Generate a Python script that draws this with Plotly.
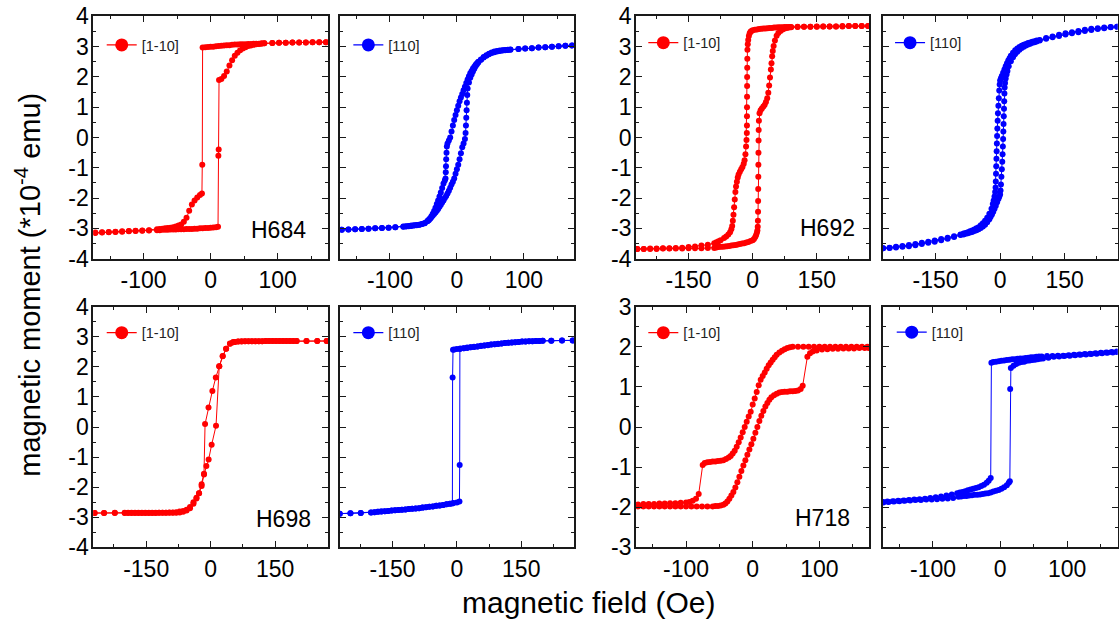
import plotly.graph_objects as go

# Hysteresis loops: (applied field in Oe, magnetic moment in 1e-4 emu).
# Each loop is stored as its down-sweep (+H -> -H) and up-sweep (-H -> +H).

H684_1M10_DOWN = [
    (172, 3.15), (162, 3.15), (152, 3.15), (142, 3.14), (132, 3.14), (122, 3.14), (112, 3.13), (102, 3.13), (92, 3.12),
    (80, 3.11), (76, 3.11), (72, 3.1), (68, 3.1), (64, 3.1), (60, 3.09), (56, 3.09), (52, 3.08), (48, 3.08), (44, 3.08),
    (40, 3.07), (36, 3.07), (32, 3.06), (28, 3.05), (24, 3.05), (20, 3.04), (16, 3.03), (12, 3.02), (8, 3.01), (4, 3.0),
    (0, 3.0), (-4, 2.99), (-8, 2.98), (-12, 2.97), (-12.5, -0.9), (-13, -1.85), (-16, -1.9), (-20, -1.98), (-24, -2.08),
    (-28, -2.21), (-32, -2.42), (-36, -2.65), (-40, -2.78), (-44, -2.87), (-48, -2.91), (-52, -2.94), (-56, -2.96),
    (-60, -2.98), (-64, -2.99), (-68, -3.0), (-72, -3.01), (-76, -3.02), (-80, -3.03),
    (-92, -3.06), (-102, -3.07), (-112, -3.08), (-122, -3.09), (-132, -3.1), (-142, -3.11), (-152, -3.12), (-162, -3.13), (-172, -3.14),
]
H684_1M10_UP = [
    (-172, -3.15), (-162, -3.14), (-152, -3.13), (-142, -3.12), (-132, -3.11), (-122, -3.1), (-112, -3.09), (-102, -3.08), (-92, -3.07),
    (-80, -3.06), (-76, -3.06), (-72, -3.05), (-68, -3.05), (-64, -3.05), (-60, -3.04), (-56, -3.04), (-52, -3.04), (-48, -3.03),
    (-44, -3.03), (-40, -3.03), (-36, -3.02), (-32, -3.02), (-28, -3.02), (-24, -3.01), (-20, -3.01), (-16, -3.0), (-12, -3.0),
    (-8, -2.99), (-4, -2.99), (0, -2.98), (4, -2.97), (8, -2.96), (11, -2.95), (11.5, -0.6), (12, -0.4), (12.5, 1.9),
    (16, 1.93), (20, 2.03), (24, 2.18), (28, 2.38), (32, 2.55), (36, 2.7), (40, 2.8), (44, 2.88), (48, 2.94), (52, 2.98),
    (56, 3.02), (60, 3.04), (64, 3.06), (68, 3.08), (72, 3.09), (76, 3.1), (80, 3.11),
    (92, 3.12), (102, 3.13), (112, 3.13), (122, 3.14), (132, 3.14), (142, 3.14), (152, 3.15), (162, 3.15), (172, 3.15),
]

H684_110_DOWN = [
    (172, 3.04), (162, 3.03), (152, 3.01), (142, 3.0), (132, 2.98), (122, 2.97), (112, 2.95), (102, 2.94), (92, 2.92),
    (80, 2.91), (76, 2.9), (72, 2.89), (68, 2.88), (64, 2.87), (60, 2.86), (56, 2.84), (52, 2.81), (48, 2.77), (44, 2.72),
    (40, 2.66), (36, 2.58), (32, 2.5), (30, 2.45), (28, 2.4), (26, 2.34), (24, 2.28), (22, 2.2), (20, 2.12), (18, 2.02),
    (16, 1.92), (14, 1.8), (12, 1.68), (10, 1.56), (8, 1.44), (6, 1.32), (4, 1.2), (2, 1.05), (0, 0.9), (-2, 0.74),
    (-4, 0.58), (-6, 0.4), (-8, 0.2), (-10, 0.0), (-12, -0.1), (-14, -0.2), (-15, -0.3), (-15.5, -0.5), (-16, -0.72),
    (-16.3, -0.95), (-16.6, -1.15), (-17, -1.35), (-18, -1.42), (-20, -1.52), (-22, -1.67), (-24, -1.82), (-26, -1.95),
    (-28, -2.08), (-30, -2.2), (-32, -2.32), (-34, -2.43), (-36, -2.52), (-38, -2.6), (-40, -2.67), (-42, -2.73),
    (-44, -2.77), (-48, -2.83), (-52, -2.86), (-56, -2.88), (-60, -2.89), (-64, -2.9), (-68, -2.91), (-72, -2.92),
    (-76, -2.93), (-80, -2.94),
    (-92, -2.96), (-102, -2.98), (-112, -2.99), (-122, -3.0), (-132, -3.01), (-142, -3.02), (-152, -3.03), (-162, -3.04), (-172, -3.05),
]
H684_110_UP = [
    (-172, -3.05), (-162, -3.04), (-152, -3.03), (-142, -3.02), (-132, -3.01), (-122, -3.0), (-112, -2.99), (-102, -2.98), (-92, -2.96),
    (-80, -2.95), (-76, -2.94), (-72, -2.93), (-68, -2.92), (-64, -2.91), (-60, -2.9), (-56, -2.88), (-52, -2.86), (-48, -2.82),
    (-44, -2.76), (-42, -2.72), (-40, -2.68), (-38, -2.63), (-36, -2.58), (-34, -2.53), (-32, -2.48), (-30, -2.42), (-28, -2.36),
    (-26, -2.29), (-24, -2.22), (-22, -2.15), (-20, -2.08), (-18, -2.0), (-16, -1.93), (-14, -1.85), (-12, -1.76), (-10, -1.66),
    (-8, -1.55), (-6, -1.46), (-4, -1.35), (-2, -1.2), (0, -1.05), (2, -0.9), (4, -0.72), (6, -0.52), (8, -0.32), (10, -0.2),
    (12, -0.05), (13, 0.15), (13.5, 0.4), (14, 0.65), (14.5, 0.9), (15, 1.15), (15.5, 1.4), (16, 1.62), (18, 1.82), (20, 1.97),
    (22, 2.08), (24, 2.18), (26, 2.27), (28, 2.35), (30, 2.42), (32, 2.48), (36, 2.57), (40, 2.64), (44, 2.7), (48, 2.75),
    (52, 2.79), (56, 2.82), (60, 2.84), (64, 2.86), (68, 2.87), (72, 2.88), (76, 2.89), (80, 2.9),
    (92, 2.92), (102, 2.94), (112, 2.95), (122, 2.97), (132, 2.98), (142, 3.0), (152, 3.01), (162, 3.03), (172, 3.04),
]

H692_1M10_DOWN = [
    (270, 3.68), (255, 3.68), (240, 3.68), (225, 3.68), (210, 3.67), (195, 3.67), (180, 3.67), (165, 3.67), (150, 3.66),
    (135, 3.66), (120, 3.66), (105, 3.66), (90, 3.65),
    (85, 3.65), (80, 3.65), (75, 3.65), (70, 3.64), (65, 3.64), (60, 3.64), (55, 3.63), (50, 3.63), (45, 3.62), (40, 3.62),
    (35, 3.61), (30, 3.6), (25, 3.6), (20, 3.59), (15, 3.58), (10, 3.57), (5, 3.56), (0, 3.54), (-3, 3.52), (-5, 3.49),
    (-7, 3.44), (-9, 3.35), (-10.5, 3.22), (-11.5, 3.08), (-12.3, 2.9), (-12.6, 2.6), (-12.8, 2.3), (-13, 2.0), (-13.1, 1.7),
    (-13.2, 1.35), (-13.3, 1.0), (-13.4, 0.7), (-13.5, 0.4), (-13.7, 0.15), (-14.5, -0.08), (-15.5, -0.3), (-17, -0.55),
    (-19, -0.75), (-21, -0.87), (-24, -0.97), (-27, -1.05), (-30, -1.13), (-33, -1.22), (-35, -1.32), (-37, -1.46),
    (-39, -1.62), (-40.5, -1.8), (-42, -2.05), (-43.5, -2.3), (-45, -2.55), (-46.5, -2.75), (-48, -2.92), (-50, -3.03),
    (-53, -3.13), (-57, -3.2), (-62, -3.27), (-67, -3.32), (-75, -3.39), (-80, -3.43), (-85, -3.46),
    (-90, -3.49), (-105, -3.54), (-120, -3.57), (-135, -3.6), (-150, -3.62), (-165, -3.64), (-180, -3.65), (-195, -3.66),
    (-210, -3.66), (-225, -3.67), (-240, -3.67), (-255, -3.68), (-270, -3.68),
]
H692_1M10_UP = [
    (-270, -3.68), (-255, -3.68), (-240, -3.68), (-225, -3.68), (-210, -3.67), (-195, -3.67), (-180, -3.67), (-165, -3.67),
    (-150, -3.66), (-135, -3.66), (-120, -3.66), (-105, -3.65), (-90, -3.65),
    (-85, -3.63), (-80, -3.62), (-75, -3.61), (-70, -3.61), (-65, -3.6), (-60, -3.59), (-55, -3.58), (-50, -3.57),
    (-45, -3.56), (-40, -3.55), (-35, -3.53), (-30, -3.52), (-25, -3.5), (-20, -3.49), (-15, -3.47), (-10, -3.45),
    (-5, -3.42), (0, -3.39), (3, -3.35), (6, -3.29), (8, -3.22), (10, -3.14), (11, -3.07), (11.8, -2.95), (12.2, -2.75),
    (12.5, -2.45), (12.7, -2.1), (12.9, -1.7), (13.1, -1.3), (13.3, -0.9), (13.5, -0.5), (13.7, -0.1), (14, 0.25),
    (14.5, 0.55), (16, 0.8), (18.5, 0.9), (21.5, 0.96), (25, 1.02), (28, 1.08), (31, 1.17), (34, 1.3), (36.5, 1.48),
    (38.5, 1.72), (40.5, 1.98), (42.5, 2.25), (44, 2.45), (45.5, 2.68), (47, 2.86), (49, 3.02), (52, 3.2), (56, 3.36),
    (60, 3.45), (65, 3.52), (70, 3.57), (75, 3.6), (80, 3.62), (85, 3.63),
    (90, 3.64), (105, 3.65), (120, 3.66), (135, 3.66), (150, 3.67), (165, 3.67), (180, 3.67), (195, 3.67), (210, 3.68),
    (225, 3.68), (240, 3.68), (255, 3.68), (270, 3.68),
]

H692_110_DOWN = [
    (272, 3.66), (257, 3.65), (242, 3.63), (227, 3.61), (212, 3.59), (197, 3.56), (182, 3.52), (167, 3.48), (152, 3.44),
    (137, 3.39), (122, 3.34), (107, 3.29), (92, 3.22),
    (85, 3.2), (80, 3.18), (75, 3.16), (70, 3.14), (65, 3.12), (60, 3.09), (55, 3.06), (50, 3.03), (45, 2.99), (40, 2.94),
    (35, 2.88), (30, 2.8), (25, 2.7), (22, 2.62), (19, 2.54), (16, 2.45), (13, 2.35), (10, 2.25), (7, 2.14), (4, 2.03),
    (2, 1.96), (0, 1.88), (-1, 1.75), (-2, 1.55), (-3, 1.3), (-4, 1.05), (-5, 0.8), (-5.7, 0.55), (-6.4, 0.3), (-7, 0.05),
    (-7.5, -0.2), (-8, -0.45), (-8.5, -0.7), (-9, -0.95), (-9.5, -1.2), (-10, -1.45), (-10.5, -1.65), (-11.5, -1.8),
    (-13, -1.95), (-15, -2.08), (-17, -2.2), (-20, -2.35), (-25, -2.52), (-30, -2.65), (-35, -2.75), (-40, -2.83),
    (-45, -2.9), (-50, -2.96), (-55, -3.0), (-60, -3.04), (-65, -3.07), (-70, -3.1), (-75, -3.13), (-80, -3.15), (-85, -3.17),
    (-92, -3.2), (-107, -3.26), (-122, -3.31), (-137, -3.35), (-152, -3.4), (-167, -3.44), (-182, -3.48), (-197, -3.52),
    (-212, -3.55), (-227, -3.58), (-242, -3.61), (-257, -3.64), (-272, -3.66),
]
H692_110_UP = [
    (-272, -3.66), (-257, -3.65), (-242, -3.63), (-227, -3.61), (-212, -3.59), (-197, -3.56), (-182, -3.52), (-167, -3.48),
    (-152, -3.44), (-137, -3.39), (-122, -3.34), (-107, -3.29), (-92, -3.22),
    (-85, -3.2), (-80, -3.18), (-75, -3.16), (-70, -3.14), (-65, -3.12), (-60, -3.09), (-55, -3.06), (-50, -3.03),
    (-45, -2.99), (-40, -2.94), (-35, -2.88), (-30, -2.8), (-25, -2.7), (-22, -2.62), (-19, -2.54), (-16, -2.45),
    (-13, -2.35), (-10, -2.25), (-7, -2.14), (-4, -2.03), (-2, -1.96), (0, -1.88), (1, -1.75), (2, -1.55), (3, -1.3),
    (4, -1.05), (5, -0.8), (5.7, -0.55), (6.4, -0.3), (7, -0.05), (7.5, 0.2), (8, 0.45), (8.5, 0.7), (9, 0.95), (9.5, 1.2),
    (10, 1.45), (10.5, 1.65), (11.5, 1.8), (13, 1.95), (15, 2.08), (17, 2.2), (20, 2.35), (25, 2.52), (30, 2.65), (35, 2.75),
    (40, 2.83), (45, 2.9), (50, 2.96), (55, 3.0), (60, 3.04), (65, 3.07), (70, 3.1), (75, 3.13), (80, 3.15), (85, 3.17),
    (92, 3.2), (107, 3.26), (122, 3.31), (137, 3.35), (152, 3.4), (167, 3.44), (182, 3.48), (197, 3.52), (212, 3.55),
    (227, 3.58), (242, 3.61), (257, 3.64), (272, 3.66),
]

H698_1M10_DOWN = [
    (270, 2.86), (248, 2.86), (223, 2.86), (200, 2.86), (192, 2.86), (184, 2.86), (176, 2.86), (168, 2.86), (160, 2.86),
    (152, 2.86), (144, 2.86), (136, 2.86), (128, 2.86), (120, 2.85), (112, 2.85), (104, 2.85), (96, 2.85), (88, 2.85),
    (80, 2.85), (72, 2.84), (64, 2.84), (56, 2.83), (52, 2.82), (45, 2.77), (36, 2.6), (28, 2.35), (20, 2.02), (12, 1.65),
    (4, 1.2), (-5, 0.65), (-13, 0.1), (-15.5, -1.55), (-21, -1.9), (-27, -2.2), (-33, -2.35), (-40, -2.5), (-48, -2.66),
    (-56, -2.75), (-64, -2.79), (-72, -2.81), (-80, -2.83), (-88, -2.84), (-96, -2.84), (-104, -2.85), (-112, -2.85),
    (-120, -2.85), (-128, -2.85), (-136, -2.85), (-144, -2.85), (-152, -2.85), (-160, -2.85), (-168, -2.85), (-176, -2.85),
    (-184, -2.85), (-192, -2.85), (-200, -2.85), (-223, -2.85), (-248, -2.86), (-270, -2.86),
]
H698_1M10_UP = [
    (-270, -2.86), (-248, -2.86), (-223, -2.86), (-200, -2.86), (-192, -2.86), (-184, -2.86), (-176, -2.86), (-168, -2.86),
    (-160, -2.86), (-152, -2.86), (-144, -2.86), (-136, -2.86), (-128, -2.86), (-120, -2.85), (-112, -2.85), (-104, -2.85),
    (-96, -2.85), (-88, -2.85), (-80, -2.85), (-72, -2.84), (-64, -2.82), (-56, -2.78), (-48, -2.7), (-40, -2.55),
    (-33, -2.38), (-27, -2.2), (-21, -1.96), (-15.5, -1.58), (-10, -1.3), (-4.7, -1.08), (2.3, -0.59), (12.5, 0.04),
    (20, 2.02), (28, 2.36), (36, 2.6), (45, 2.78), (52, 2.82), (56, 2.83), (64, 2.84), (72, 2.85), (80, 2.85), (88, 2.85),
    (96, 2.85), (104, 2.85), (112, 2.85), (120, 2.85), (128, 2.86), (136, 2.86), (144, 2.86), (152, 2.86), (160, 2.86),
    (168, 2.86), (176, 2.86), (184, 2.86), (192, 2.86), (200, 2.86), (223, 2.86), (248, 2.86), (270, 2.86),
]

H698_110_DOWN = [
    (270, 2.88), (245, 2.88), (220, 2.87), (200, 2.87), (192, 2.86), (184, 2.86), (176, 2.85), (168, 2.85), (160, 2.84),
    (152, 2.84), (144, 2.83), (136, 2.82), (128, 2.81), (120, 2.8), (112, 2.79), (104, 2.78), (96, 2.77), (88, 2.75),
    (80, 2.74), (72, 2.73), (64, 2.71), (56, 2.7), (48, 2.68), (40, 2.67), (32, 2.65), (24, 2.64), (16, 2.62), (8, 2.61),
    (0, 2.59), (-6, 2.58), (-9, 2.57), (-10, 1.65), (-10.5, -2.54), (-16, -2.55), (-24, -2.57), (-32, -2.59), (-40, -2.61),
    (-48, -2.62), (-56, -2.64), (-64, -2.65), (-72, -2.67), (-80, -2.68), (-88, -2.7), (-96, -2.71), (-104, -2.72),
    (-112, -2.73), (-120, -2.74), (-128, -2.75), (-136, -2.76), (-144, -2.77), (-152, -2.78), (-160, -2.79), (-168, -2.8),
    (-176, -2.81), (-184, -2.82), (-192, -2.83), (-200, -2.84), (-224, -2.86), (-248, -2.87), (-273, -2.88),
]
H698_110_UP = [
    (-273, -2.88), (-248, -2.87), (-224, -2.86), (-200, -2.84), (-192, -2.83), (-184, -2.82), (-176, -2.81), (-168, -2.8),
    (-160, -2.79), (-152, -2.78), (-144, -2.77), (-136, -2.76), (-128, -2.75), (-120, -2.74), (-112, -2.73), (-104, -2.72),
    (-96, -2.71), (-88, -2.7), (-80, -2.68), (-72, -2.67), (-64, -2.65), (-56, -2.64), (-48, -2.62), (-40, -2.61),
    (-32, -2.59), (-24, -2.57), (-16, -2.55), (-8, -2.53), (0, -2.51), (6, -2.48), (6.5, -1.26), (7, 2.59), (16, 2.62),
    (24, 2.63), (32, 2.65), (40, 2.66), (48, 2.68), (56, 2.69), (64, 2.71), (72, 2.72), (80, 2.74), (88, 2.75), (96, 2.76),
    (104, 2.78), (112, 2.79), (120, 2.8), (128, 2.81), (136, 2.82), (144, 2.83), (152, 2.84), (160, 2.84), (168, 2.85),
    (176, 2.85), (184, 2.86), (192, 2.86), (200, 2.87), (220, 2.87), (245, 2.88), (270, 2.88),
]

H718_1M10_DOWN = [
    (172, 2.0), (164, 2.0), (156, 2.0), (148, 2.0), (140, 2.0), (132, 2.0), (124, 2.0), (116, 2.0), (108, 2.0), (100, 2.0),
    (92, 2.0), (84, 2.0), (76, 2.0), (68, 2.0), (60, 2.0), (56, 1.99), (52, 1.97), (48, 1.94), (44, 1.9), (40, 1.86),
    (36, 1.8), (33, 1.74), (30, 1.68), (27, 1.61), (24, 1.54), (21, 1.45), (18, 1.36), (15, 1.27), (12, 1.18), (9, 1.04),
    (6, 0.87), (3, 0.71), (0, 0.56), (-3, 0.38), (-6, 0.26), (-9, 0.13), (-12, 0.0), (-15, -0.13), (-18, -0.26),
    (-21, -0.38), (-24, -0.49), (-27, -0.59), (-30, -0.66), (-33, -0.72), (-36, -0.76), (-40, -0.8), (-44, -0.83),
    (-48, -0.84), (-52, -0.85), (-56, -0.86), (-60, -0.86), (-64, -0.87), (-68, -0.88), (-72, -0.9), (-75, -0.95),
    (-81, -1.67), (-85, -1.79), (-90, -1.84), (-95, -1.87), (-100, -1.88), (-108, -1.89), (-116, -1.9), (-124, -1.9),
    (-132, -1.91), (-140, -1.91), (-148, -1.92), (-156, -1.92), (-164, -1.92), (-172, -1.93),
]
H718_1M10_UP = [
    (-172, -1.98), (-164, -1.98), (-156, -1.98), (-148, -1.98), (-140, -1.98), (-132, -1.98), (-124, -1.98), (-116, -1.98),
    (-108, -1.98), (-100, -1.98), (-92, -1.98), (-84, -1.98), (-76, -1.98), (-68, -1.98), (-60, -1.98), (-56, -1.97),
    (-52, -1.97), (-48, -1.96), (-44, -1.94), (-41, -1.91), (-38, -1.86), (-35, -1.79), (-32, -1.71), (-29, -1.62),
    (-26, -1.51), (-23, -1.38), (-20, -1.24), (-17, -1.1), (-14, -0.96), (-11, -0.83), (-8, -0.69), (-5, -0.56),
    (-2, -0.43), (1, -0.29), (4, -0.14), (7, 0.0), (10, 0.15), (13, 0.28), (16, 0.4), (19, 0.51), (22, 0.6), (25, 0.68),
    (28, 0.74), (32, 0.79), (36, 0.83), (40, 0.86), (44, 0.87), (48, 0.88), (52, 0.88), (56, 0.89), (60, 0.89), (64, 0.9),
    (68, 0.91), (72, 0.95), (75, 1.03), (82, 1.75), (86, 1.84), (90, 1.88), (96, 1.91), (104, 1.93), (112, 1.94),
    (120, 1.95), (128, 1.95), (136, 1.96), (144, 1.96), (152, 1.96), (160, 1.97), (168, 1.97), (174, 1.97),
]

H718_110_DOWN = [
    (174, 1.88), (166, 1.87), (158, 1.86), (150, 1.85), (142, 1.84), (134, 1.83), (126, 1.82), (118, 1.81), (110, 1.8),
    (102, 1.79), (94, 1.78), (86, 1.78), (78, 1.77), (70, 1.77), (62, 1.76), (58, 1.76), (54, 1.75), (50, 1.74), (46, 1.74),
    (42, 1.73), (38, 1.72), (34, 1.71), (30, 1.71), (26, 1.7), (22, 1.69), (18, 1.69), (14, 1.68), (10, 1.67), (6, 1.66),
    (2, 1.65), (-2, 1.64), (-6, 1.63), (-10, 1.62), (-13, 1.6), (-14, -1.27), (-17, -1.34), (-20, -1.39), (-24, -1.44),
    (-28, -1.47), (-32, -1.5), (-36, -1.52), (-40, -1.54), (-44, -1.56), (-48, -1.58), (-52, -1.6), (-56, -1.62),
    (-60, -1.63), (-64, -1.65), (-72, -1.68), (-80, -1.71), (-88, -1.73), (-96, -1.75), (-104, -1.77), (-112, -1.79),
    (-120, -1.8), (-128, -1.81), (-136, -1.82), (-144, -1.83), (-152, -1.84), (-160, -1.85), (-168, -1.86), (-174, -1.87),
]
H718_110_UP = [
    (-174, -1.88), (-166, -1.87), (-158, -1.86), (-150, -1.85), (-142, -1.84), (-134, -1.83), (-126, -1.82), (-118, -1.82),
    (-110, -1.81), (-102, -1.81), (-94, -1.8), (-86, -1.79), (-78, -1.78), (-70, -1.77), (-62, -1.74), (-58, -1.73),
    (-54, -1.72), (-50, -1.72), (-46, -1.71), (-42, -1.7), (-38, -1.69), (-34, -1.69), (-30, -1.68), (-26, -1.67),
    (-22, -1.66), (-18, -1.65), (-14, -1.63), (-10, -1.61), (-6, -1.59), (-2, -1.57), (2, -1.54), (6, -1.5), (10, -1.45),
    (13, -1.39), (14.5, -1.35), (15, 0.95), (16, 1.47), (20, 1.53), (24, 1.57), (28, 1.6), (32, 1.62), (36, 1.63),
    (40, 1.65), (44, 1.66), (48, 1.67), (52, 1.68), (56, 1.69), (60, 1.7), (64, 1.71), (72, 1.73), (80, 1.75), (88, 1.76),
    (96, 1.77), (104, 1.78), (112, 1.79), (120, 1.8), (128, 1.81), (136, 1.82), (144, 1.83), (152, 1.84), (160, 1.85),
    (168, 1.86), (174, 1.87),
]

SAMPLES = ["H684", "H692", "H698", "H718"]
DIRECTIONS = ["[1-10]", "[110]"]

FIELD_TICKS_NARROW = [-100, 0, 100]
FIELD_TICKS_WIDE = [-150, 0, 150]
MOMENT_TICKS_4 = [-4, -3, -2, -1, 0, 1, 2, 3, 4]
MOMENT_TICKS_3 = [-3, -2, -1, 0, 1, 2, 3]

# panel order: row by row, each sample shown as a [1-10] / [110] pair
PANELS = [
    ("H684", "[1-10]", H684_1M10_DOWN, H684_1M10_UP),
    ("H684", "[110]", H684_110_DOWN, H684_110_UP),
    ("H692", "[1-10]", H692_1M10_DOWN, H692_1M10_UP),
    ("H692", "[110]", H692_110_DOWN, H692_110_UP),
    ("H698", "[1-10]", H698_1M10_DOWN, H698_1M10_UP),
    ("H698", "[110]", H698_110_DOWN, H698_110_UP),
    ("H718", "[1-10]", H718_1M10_DOWN, H718_1M10_UP),
    ("H718", "[110]", H718_110_DOWN, H718_110_UP),
]
FIELD_RANGE = {"H684": 175, "H692": 273, "H698": 273, "H718": 175}
MOMENT_RANGE = {"H684": 4, "H692": 4, "H698": 4, "H718": 3}

# ---- styling / layout ----
FONT = "Liberation Sans, Arial, sans-serif"
COLORS = {"[1-10]": "#ff0000", "[110]": "#0000ff"}
COL_DOMAINS = [(0.0834, 0.2931), (0.3036, 0.5130), (0.5684, 0.7769), (0.7888, 0.9987)]
ROW_DOMAINS = [(0.5822, 0.9735), (0.1158, 0.5045)]
LEGEND_POS = [(0.0909, 0.9273), (0.3113, 0.9273), (0.5749, 0.931), (0.7954, 0.931),
              (0.0909, 0.4625), (0.3113, 0.4625), (0.5749, 0.4625), (0.7969, 0.4632)]
LABEL_POS = {0: (0.916, 0.12), 2: (0.946, 0.125), 4: (0.937, 0.117), 6: (0.926, 0.12)}
AXIS_COLOR = "#1a1a1a"


def tick_text(vals):
    return [str(v) for v in vals]


fig = go.Figure()
layout = dict(
    template="none",
    width=1119, height=619, autosize=False,
    margin=dict(l=0, r=0, t=0, b=0, pad=0, autoexpand=False),
    paper_bgcolor="white", plot_bgcolor="white",
    font=dict(family=FONT, color="black"),
    annotations=[],
)

for i, (sample, direction, down, up) in enumerate(PANELS):
    n = i + 1
    sfx = "" if n == 1 else str(n)
    row, col = divmod(i, 4)
    color = COLORS[direction]
    loop = down + up
    fields = [p[0] for p in loop]
    moments = [p[1] for p in loop]

    fig.add_trace(go.Scatter(
        x=fields, y=moments, mode="lines+markers",
        line=dict(color=color, width=1),
        marker=dict(color=color, size=6),
        xaxis="x" + sfx, yaxis="y" + sfx,
        showlegend=False, hoverinfo="skip",
    ))
    # legend entry for this panel
    fig.add_trace(go.Scatter(
        x=[None], y=[None], mode="lines+markers", name=direction,
        line=dict(color=color, width=1.3),
        marker=dict(color=color, size=13),
        xaxis="x" + sfx, yaxis="y" + sfx,
        legend="legend" + sfx, showlegend=True,
    ))

    frange = FIELD_RANGE[sample]
    fticks = FIELD_TICKS_NARROW if frange < 200 else FIELD_TICKS_WIDE
    fminor = 50 if frange < 200 else 75
    mrange = MOMENT_RANGE[sample]
    mticks = MOMENT_TICKS_4 if mrange == 4 else MOMENT_TICKS_3

    common = dict(
        showline=True, linecolor=AXIS_COLOR, linewidth=1.8, mirror="allticks",
        ticks="inside", ticklen=6, tickwidth=1.4, tickcolor=AXIS_COLOR,
        showgrid=False, zeroline=False, automargin=False,
        tickfont=dict(family=FONT, size=23, color="black"),
        tickmode="array",
    )
    layout["xaxis" + sfx] = dict(
        common, domain=list(COL_DOMAINS[col]), anchor="y" + sfx,
        range=[-frange, frange], tickvals=fticks, ticktext=tick_text(fticks),
        minor=dict(ticks="inside", ticklen=3, tickwidth=1.2, tickcolor=AXIS_COLOR,
                   tickmode="linear", tick0=0, dtick=fminor),
    )
    layout["yaxis" + sfx] = dict(
        common, domain=list(ROW_DOMAINS[row]), anchor="x" + sfx,
        range=[-mrange, mrange], tickvals=mticks, ticktext=tick_text(mticks),
        showticklabels=(col % 2 == 0), ticklabelstandoff=-2,
        minor=dict(ticks="inside", ticklen=3, tickwidth=1.2, tickcolor=AXIS_COLOR,
                   tickmode="linear", tick0=0, dtick=0.5),
    )
    lx, ly = LEGEND_POS[i]
    layout["legend" + sfx] = dict(
        x=lx, y=ly, xanchor="left", yanchor="middle",
        bgcolor="rgba(0,0,0,0)", borderwidth=0,
        font=dict(family=FONT, size=14.5, color="#222222"),
        itemsizing="trace", itemwidth=30,
    )
    if i in LABEL_POS:
        ax_, ay_ = LABEL_POS[i]
        layout["annotations"].append(dict(
            text=sample, x=ax_, y=ay_, xref="x%s domain" % sfx, yref="y%s domain" % sfx,
            xanchor="right", yanchor="middle", showarrow=False,
            font=dict(family=FONT, size=23, color="black"),
        ))

layout["annotations"].append(dict(
    text="magnetic field (Oe)", x=0.526, y=0.027, xref="paper", yref="paper",
    xanchor="center", yanchor="middle", showarrow=False,
    font=dict(family=FONT, size=30, color="black"),
))
layout["annotations"].append(dict(
    text="magnetic moment (*10<sup>-4</sup> emu)", x=0.025, y=0.54, xref="paper", yref="paper",
    xanchor="center", yanchor="middle", textangle=-90, showarrow=False,
    font=dict(family=FONT, size=29, color="black"),
))

fig.update_layout(**layout)
fig.write_html("out.html")
